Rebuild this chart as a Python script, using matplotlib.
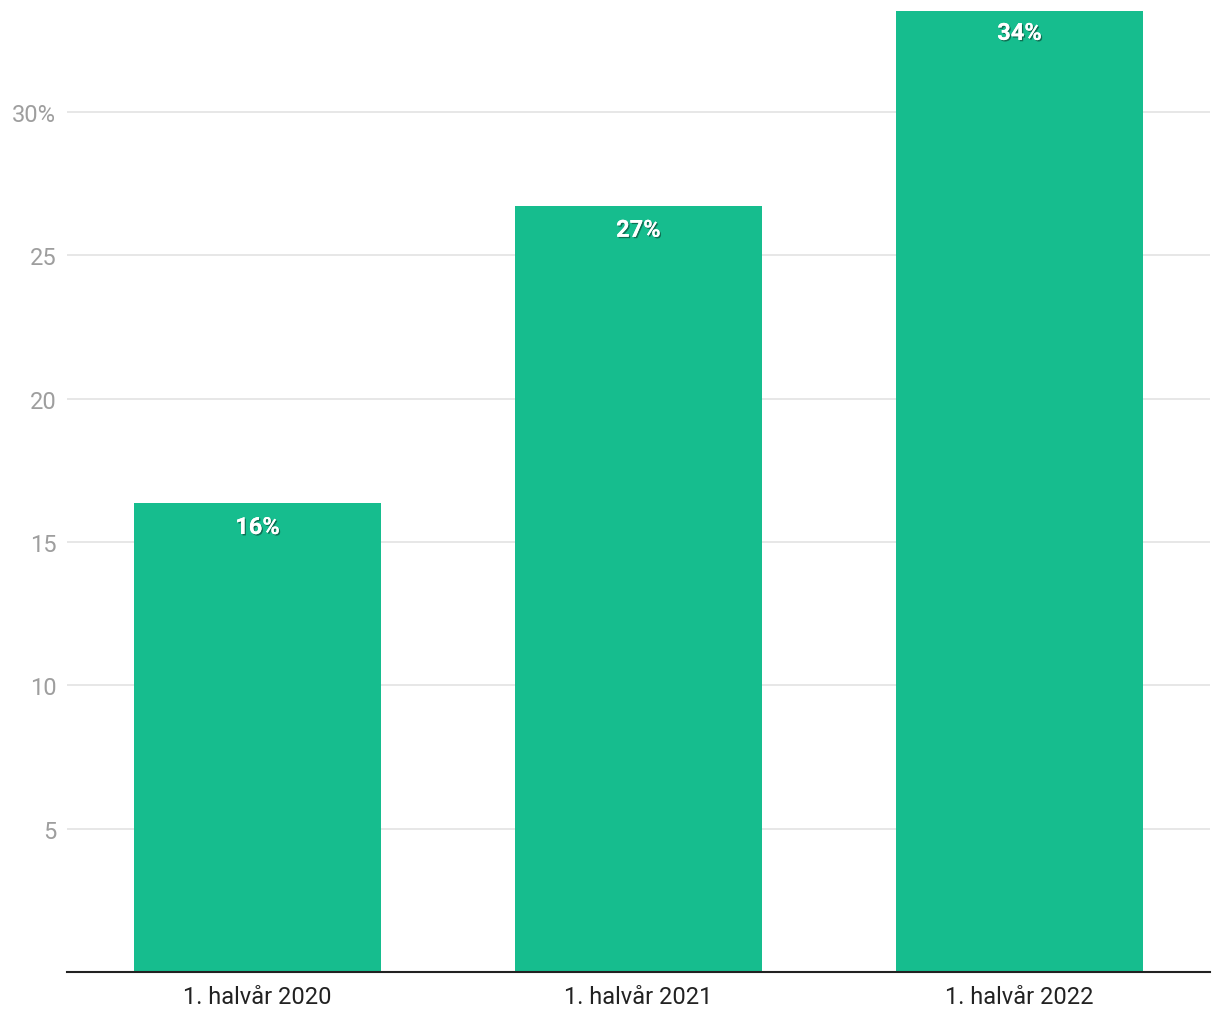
import matplotlib
matplotlib.use("Agg")
import matplotlib.pyplot as plt
import matplotlib.patheffects as pe

# Data
categories = ["1. halvår 2020", "1. halvår 2021", "1. halvår 2022"]
values = [16.36, 26.73, 33.6]
labels = ["16%", "27%", "34%"]
yticks = [5, 10, 15, 20, 25, 30]
ytick_labels = ["5", "10", "15", "20", "25", "30%"]

plt.rcParams["font.family"] = ["Roboto", "DejaVu Sans"]

fig = plt.figure(figsize=(12.2, 10.2), dpi=100)
ax = fig.add_axes([67 / 1220, 47 / 1020, (1210 - 67) / 1220, (971 - 10) / 1020])

x = range(len(categories))
ax.bar(x, values, width=0.65, color="#16bd8e", zorder=2)

# Value labels inside the top of each bar
for i, (v, lab) in enumerate(zip(values, labels)):
    ax.text(i, v - 0.45, lab, ha="center", va="top", color="white",
            fontsize=17, fontweight="bold", zorder=3,
            path_effects=[pe.withSimplePatchShadow(offset=(1, -1), shadow_rgbFace="#0b4f3b", alpha=0.7),
                          pe.Normal()])

ax.set_xlim(-0.5, 2.5)
ax.set_ylim(0, 33.53)
ax.set_xticks(list(x))
ax.set_xticklabels(categories, fontsize=17, color="#222222")
ax.set_yticks(yticks)
ax.set_yticklabels(ytick_labels, fontsize=17, color="#9e9e9e")
ax.tick_params(axis="both", length=0)
ax.tick_params(axis="y", pad=7.7)
ax.tick_params(axis="x", pad=9.5)

ax.grid(axis="y", color="#e3e3e3", linewidth=1.2, zorder=1)
for side in ["top", "right", "left"]:
    ax.spines[side].set_visible(False)
ax.spines["bottom"].set_color("#222222")
ax.spines["bottom"].set_linewidth(1.5)
ax.spines["bottom"].set_zorder(4)

fig.savefig("out.png", dpi=100)
